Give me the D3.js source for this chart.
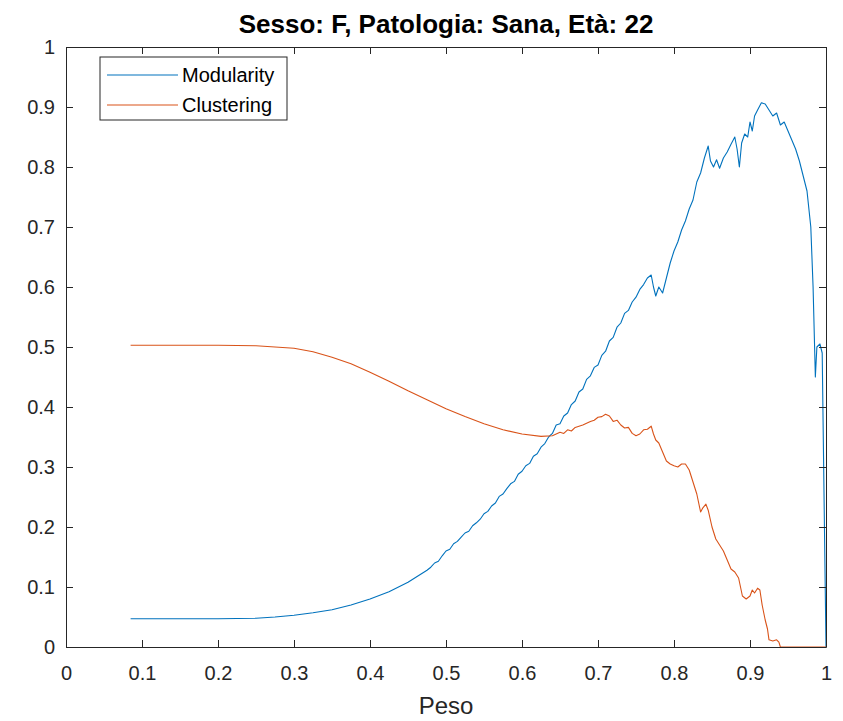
<!DOCTYPE html>
<html>
<head>
<meta charset="utf-8">
<script src="https://cdn.jsdelivr.net/npm/d3@7"></script>
<style>
  body { margin: 0; background: #fff; }
  svg { display: block; font-family: "Liberation Sans", Arial, sans-serif; }
  .axis path, .axis line { stroke: #262626; }
  .axis text { fill: #262626; font-size: 20px; font-family: "Liberation Sans", Arial, sans-serif; }
</style>
</head>
<body>
<svg id="chart"></svg>
<script>
// Chart text
const titleText = "Sesso: F, Patologia: Sana, Età: 22";
const xLabelText = "Peso";
const seriesNames = ["Modularity", "Clustering"];
const xTicks = [0, 0.1, 0.2, 0.3, 0.4, 0.5, 0.6, 0.7, 0.8, 0.9, 1];
const yTicks = [0, 0.1, 0.2, 0.3, 0.4, 0.5, 0.6, 0.7, 0.8, 0.9, 1];

// Modularity (blue) - [peso, value]
const modularity = [
  [0.085, 0.047], [0.1, 0.047], [0.15, 0.047], [0.2, 0.047], [0.25, 0.048],
  [0.275, 0.05], [0.3, 0.053], [0.325, 0.057], [0.35, 0.062], [0.375, 0.07],
  [0.4, 0.08], [0.425, 0.092], [0.45, 0.108], [0.475, 0.128],
  [0.48, 0.133], [0.485, 0.14], [0.49, 0.143], [0.495, 0.152], [0.5, 0.16],
  [0.505, 0.163], [0.51, 0.172], [0.515, 0.176], [0.52, 0.183], [0.525, 0.19],
  [0.53, 0.193], [0.535, 0.202], [0.54, 0.207], [0.545, 0.213], [0.55, 0.222],
  [0.555, 0.226], [0.56, 0.235], [0.565, 0.24], [0.57, 0.251], [0.575, 0.255],
  [0.58, 0.264], [0.585, 0.272], [0.59, 0.276], [0.595, 0.288], [0.6, 0.293],
  [0.605, 0.302], [0.61, 0.306], [0.615, 0.318], [0.62, 0.322], [0.625, 0.333],
  [0.63, 0.339], [0.635, 0.35], [0.64, 0.356], [0.645, 0.37], [0.65, 0.372],
  [0.655, 0.385], [0.66, 0.39], [0.665, 0.404], [0.67, 0.41], [0.675, 0.425],
  [0.68, 0.43], [0.685, 0.446], [0.69, 0.452], [0.695, 0.466], [0.7, 0.47],
  [0.705, 0.486], [0.71, 0.493], [0.715, 0.51], [0.72, 0.516], [0.725, 0.533],
  [0.73, 0.54], [0.735, 0.556], [0.74, 0.561], [0.745, 0.575], [0.75, 0.583],
  [0.755, 0.596], [0.76, 0.604], [0.765, 0.615], [0.77, 0.62], [0.773, 0.6],
  [0.776, 0.585], [0.78, 0.6], [0.785, 0.59], [0.79, 0.615], [0.795, 0.64],
  [0.8, 0.66], [0.805, 0.675], [0.81, 0.695], [0.815, 0.71], [0.82, 0.73],
  [0.825, 0.745], [0.83, 0.775], [0.835, 0.79], [0.84, 0.815], [0.845, 0.835],
  [0.848, 0.81], [0.852, 0.8], [0.856, 0.812], [0.86, 0.798], [0.865, 0.815],
  [0.87, 0.825], [0.875, 0.838], [0.88, 0.85], [0.883, 0.83], [0.886, 0.8],
  [0.889, 0.84], [0.893, 0.855], [0.897, 0.85], [0.9, 0.875], [0.903, 0.86],
  [0.906, 0.885], [0.91, 0.895], [0.915, 0.907], [0.92, 0.905], [0.925, 0.895],
  [0.93, 0.885], [0.935, 0.89], [0.94, 0.87], [0.945, 0.875], [0.95, 0.86],
  [0.955, 0.845], [0.96, 0.83], [0.965, 0.81], [0.97, 0.785], [0.975, 0.76],
  [0.98, 0.7], [0.983, 0.6], [0.985, 0.5], [0.986, 0.45], [0.988, 0.5],
  [0.992, 0.505], [0.995, 0.49], [1.0, 0.0]
];

// Clustering (orange) - [peso, value]
const clustering = [
  [0.085, 0.503], [0.1, 0.503], [0.15, 0.503], [0.2, 0.503], [0.25, 0.502],
  [0.3, 0.498], [0.325, 0.492], [0.35, 0.483], [0.375, 0.472], [0.4, 0.458],
  [0.425, 0.443], [0.45, 0.427], [0.475, 0.412], [0.5, 0.397], [0.525, 0.384],
  [0.55, 0.372], [0.575, 0.362], [0.6, 0.355], [0.625, 0.351], [0.64, 0.352],
  [0.645, 0.355], [0.65, 0.358], [0.655, 0.356], [0.66, 0.362], [0.665, 0.36],
  [0.67, 0.366], [0.675, 0.368], [0.68, 0.37], [0.685, 0.373], [0.69, 0.376],
  [0.695, 0.378], [0.7, 0.383], [0.705, 0.384], [0.71, 0.388], [0.715, 0.385],
  [0.72, 0.376], [0.725, 0.378], [0.73, 0.37], [0.735, 0.365], [0.74, 0.366],
  [0.745, 0.356], [0.75, 0.352], [0.755, 0.355], [0.76, 0.362], [0.765, 0.363],
  [0.77, 0.368], [0.773, 0.355], [0.776, 0.345], [0.78, 0.34], [0.785, 0.325],
  [0.79, 0.31], [0.795, 0.305], [0.8, 0.302], [0.805, 0.3], [0.81, 0.305],
  [0.815, 0.305], [0.82, 0.295], [0.825, 0.275], [0.83, 0.255], [0.835, 0.225],
  [0.838, 0.232], [0.842, 0.238], [0.845, 0.228], [0.85, 0.2], [0.855, 0.18],
  [0.86, 0.17], [0.865, 0.16], [0.87, 0.145], [0.875, 0.13], [0.88, 0.125],
  [0.885, 0.115], [0.89, 0.085], [0.895, 0.08], [0.9, 0.085], [0.903, 0.095],
  [0.906, 0.09], [0.91, 0.098], [0.913, 0.095], [0.916, 0.07], [0.92, 0.045],
  [0.923, 0.03], [0.925, 0.012], [0.93, 0.01], [0.935, 0.012], [0.938, 0.008],
  [0.94, 0.0], [1.0, 0.0]
];

const colors = ["#0072BD", "#D95319"];

const width = 843, height = 721;
const margin = { top: 47, right: 17, bottom: 74, left: 66 };
const innerW = width - margin.left - margin.right;
const innerH = height - margin.top - margin.bottom;

const svg = d3.select("#chart").attr("width", width).attr("height", height);

const xScale = d3.scaleLinear().domain([0, 1]).range([0, innerW]);
const yScale = d3.scaleLinear().domain([0, 1]).range([innerH, 0]);
const fmt = d => (d === 0 || d === 1) ? String(d) : d3.format(".1f")(d);

const chart = svg.append("g")
  .attr("transform", `translate(${margin.left},${margin.top})`);

// Lines
const line = d3.line().x(d => xScale(d[0])).y(d => yScale(d[1]));
[modularity, clustering].forEach((s, i) => {
  chart.append("path")
    .datum(s)
    .attr("fill", "none")
    .attr("stroke", colors[i])
    .attr("stroke-width", 1.1)
    .attr("stroke-linejoin", "round")
    .attr("d", line);
});

// Axes (ticks inward, box on)
chart.append("g").attr("class", "axis")
  .attr("transform", `translate(0,${innerH})`)
  .call(d3.axisBottom(xScale).tickValues(xTicks).tickFormat(fmt)
    .tickSizeInner(-7).tickSizeOuter(0).tickPadding(19));
chart.append("g").attr("class", "axis")
  .call(d3.axisTop(xScale).tickValues(xTicks).tickFormat("")
    .tickSizeInner(-7).tickSizeOuter(0));
chart.append("g").attr("class", "axis")
  .call(d3.axisLeft(yScale).tickValues(yTicks).tickFormat(fmt)
    .tickSizeInner(-7).tickSizeOuter(0).tickPadding(11));
chart.append("g").attr("class", "axis")
  .attr("transform", `translate(${innerW},0)`)
  .call(d3.axisRight(yScale).tickValues(yTicks).tickFormat("")
    .tickSizeInner(-7).tickSizeOuter(0));

// Title and axis label
svg.append("text")
  .attr("x", margin.left + innerW / 2).attr("y", 33)
  .attr("text-anchor", "middle")
  .style("font-size", "26px").style("font-weight", "bold").style("fill", "#000")
  .text(titleText);
svg.append("text")
  .attr("x", margin.left + innerW / 2).attr("y", 714)
  .attr("text-anchor", "middle")
  .style("font-size", "24px").style("fill", "#262626")
  .text(xLabelText);

// Legend
const legend = chart.append("g").attr("transform", "translate(34,10)");
legend.append("rect")
  .attr("width", 187).attr("height", 63)
  .attr("fill", "#fff").attr("stroke", "#262626").attr("stroke-width", 1);
seriesNames.forEach((name, i) => {
  const yy = 18 + i * 30;
  legend.append("line")
    .attr("x1", 7).attr("x2", 78).attr("y1", yy).attr("y2", yy)
    .attr("stroke", colors[i]).attr("stroke-width", 1.1);
  legend.append("text")
    .attr("x", 82).attr("y", yy).attr("dy", "0.35em")
    .style("font-size", "20px").style("fill", "#000")
    .text(name);
});
</script>
</body>
</html>
